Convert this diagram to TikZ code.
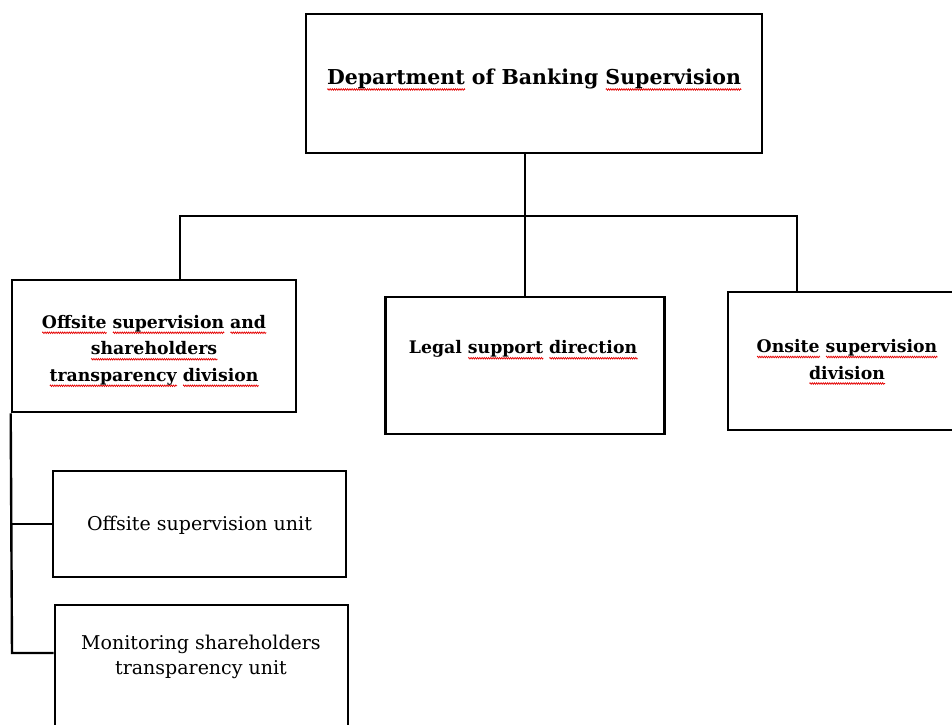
\documentclass[tikz,border=0pt]{standalone}
\usepackage{fontspec}
\setmainfont{DejaVu Serif}
\usetikzlibrary{decorations.pathmorphing}
\newsavebox\sqbox
\newlength\sqlen
\tikzset{sqline/.style={draw=red!90!black,line width=0.7pt,decorate,decoration={zigzag,amplitude=0.8pt,segment length=2.2pt}}}
\newcommand\sq[1]{\sbox\sqbox{#1}\setlength\sqlen{\wd\sqbox}\makebox[0pt][l]{\tikz[baseline=0pt]\draw[sqline](0pt,-4.5pt)--(\sqlen,-4.5pt);}\usebox\sqbox}
\begin{document}
\begin{tikzpicture}[x=1pt,y=-1pt,
  box/.style={draw,line width=2.6pt,inner sep=0pt},
  conn/.style={line width=2.4pt},
  bigtxt/.style={font=\bfseries\fontsize{20.5}{26}\selectfont,align=center,inner sep=0pt},
  boldtxt/.style={font=\bfseries\fontsize{17.3}{26.5}\selectfont,align=center,inner sep=0pt},
  regtxt/.style={font=\fontsize{19}{25}\selectfont,align=center,inner sep=0pt}]
\useasboundingbox (0,0) rectangle (952,724);
\clip (0,0) rectangle (952,724);
\fill[white] (0,0) rectangle (952,724);
% boxes
\node[box,minimum width=456pt,minimum height=139pt] (dept) at (534,83.5) {};
\node[box,minimum width=284pt,minimum height=132pt] (div) at (154,346) {};
\node[box,minimum width=279pt,minimum height=137pt] (legal) at (525,365.5) {};
\node[box,minimum width=238pt,minimum height=138pt] (onsite) at (847,361) {};
\node[box,minimum width=293pt,minimum height=106pt] (unit1) at (199.5,524) {};
\node[box,minimum width=293pt,minimum height=135pt] (unit2) at (201.5,672.5) {};
% texts
\node[bigtxt] (tdept) at (534,80) {\sq{Department} of Banking \sq{Supervision}};
\node[boldtxt] (tdiv) at (154,351) {\sq{Offsite} \sq{supervision} \sq{and}\\\sq{shareholders}\\\sq{transparency} \sq{division}};
\node[boldtxt] (tlegal) at (523,350) {Legal \sq{support} \sq{direction}};
\node[boldtxt] (tonsite) at (847,362) {\sq{Onsite} \sq{supervision}\\\sq{division}};
\node[regtxt] (tunit1) at (199.5,525) {Offsite supervision unit};
\node[regtxt] (tunit2) at (201,657) {Monitoring shareholders\\transparency unit};
% connectors
\coordinate (busL) at (180,216);
\coordinate (busR) at (797,216);
\coordinate (b2) at (12,653);
\draw[conn] (legal.north |- dept.south) -- (legal.north);
\draw[conn] (busL |- div.north) -- (busL) -- (busR) -- (busR |- onsite.north);
\draw[conn] (div.south west) -- (b2) -- (b2 -| unit2.west);
\draw[conn] (div.south west |- unit1.west) -- (unit1.west);
\end{tikzpicture}
\end{document}
